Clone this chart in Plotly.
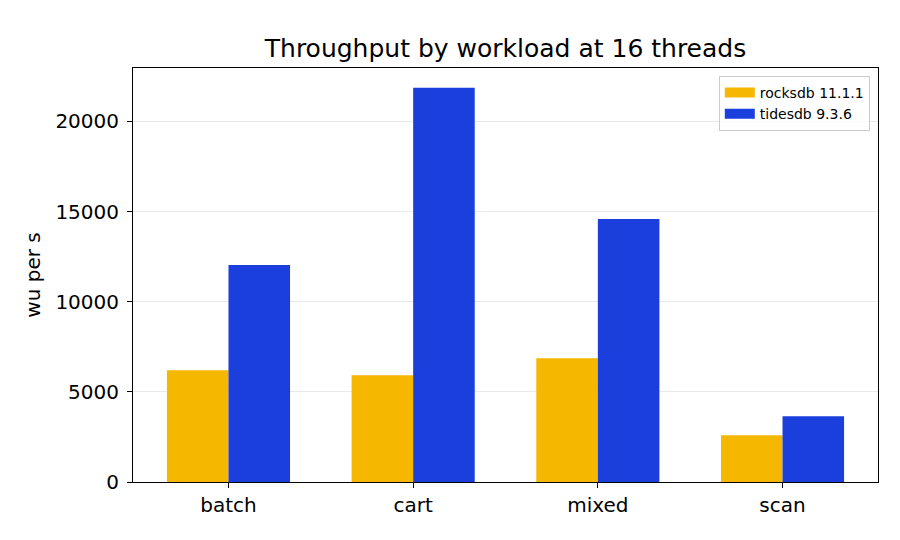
import plotly.graph_objects as go

categories = ["batch", "cart", "mixed", "scan"]
rocksdb = [6206, 5928, 6872, 2594]
tidesdb = [12039, 21874, 14594, 3650]
series_names = ["rocksdb 11.1.1", "tidesdb 9.3.6"]
colors = ["#F5B700", "#1A3FDC"]
y_ticks = [0, 5000, 10000, 15000, 20000]

font = "DejaVu Sans"
xs = list(range(len(categories)))
fig = go.Figure()
for name, vals, col in zip(series_names, [rocksdb, tidesdb], colors):
    fig.add_trace(go.Bar(x=xs, y=vals, name=name, showlegend=False,
                         marker=dict(color=col, line=dict(width=0))))
# legend entries as wide rectangles
for name, col in zip(series_names, colors):
    fig.add_trace(go.Scatter(x=[None], y=[None], mode="lines", name=name,
                             line=dict(color=col, width=10)))

fig.update_layout(
    width=900, height=540,
    margin=dict(l=133, r=22, t=68, b=58),
    paper_bgcolor="white", plot_bgcolor="white",
    barmode="group", bargap=1/3, bargroupgap=0,
    font=dict(family=font, color="black", size=19),
    title=dict(text="Throughput by workload at 16 threads", x=0.5, xanchor="center", xref="paper",
               y=1 - 48/540, yanchor="middle", font=dict(size=25, family=font)),
    showlegend=True,
    legend=dict(x=0.989, y=0.981, xanchor="right", yanchor="top",
                bgcolor="rgba(255,255,255,0.8)", bordercolor="#cccccc", borderwidth=1,
                font=dict(size=14, family=font), tracegroupgap=0),
    xaxis=dict(range=[-0.517, 3.517], tickmode="array", tickvals=xs,
               ticktext=categories, showline=True, mirror=True, linecolor="black", linewidth=1,
               ticks="outside", ticklen=5, tickcolor="black", showgrid=False, zeroline=False,
               tickfont=dict(size=20)),
    yaxis=dict(range=[0, 22967], tickmode="array", tickvals=y_ticks,
               ticktext=[str(v) for v in y_ticks], showline=True, mirror=True, linecolor="black",
               linewidth=1, ticks="outside", ticklen=5, tickcolor="black", showgrid=True,
               gridcolor="rgba(200,200,200,0.4)", gridwidth=1, zeroline=False,
               ticklabelstandoff=4,
               title=dict(text="wu per s", font=dict(size=20), standoff=9),
               tickfont=dict(size=20), layer="above traces"),
)

fig.write_html("out.html")
